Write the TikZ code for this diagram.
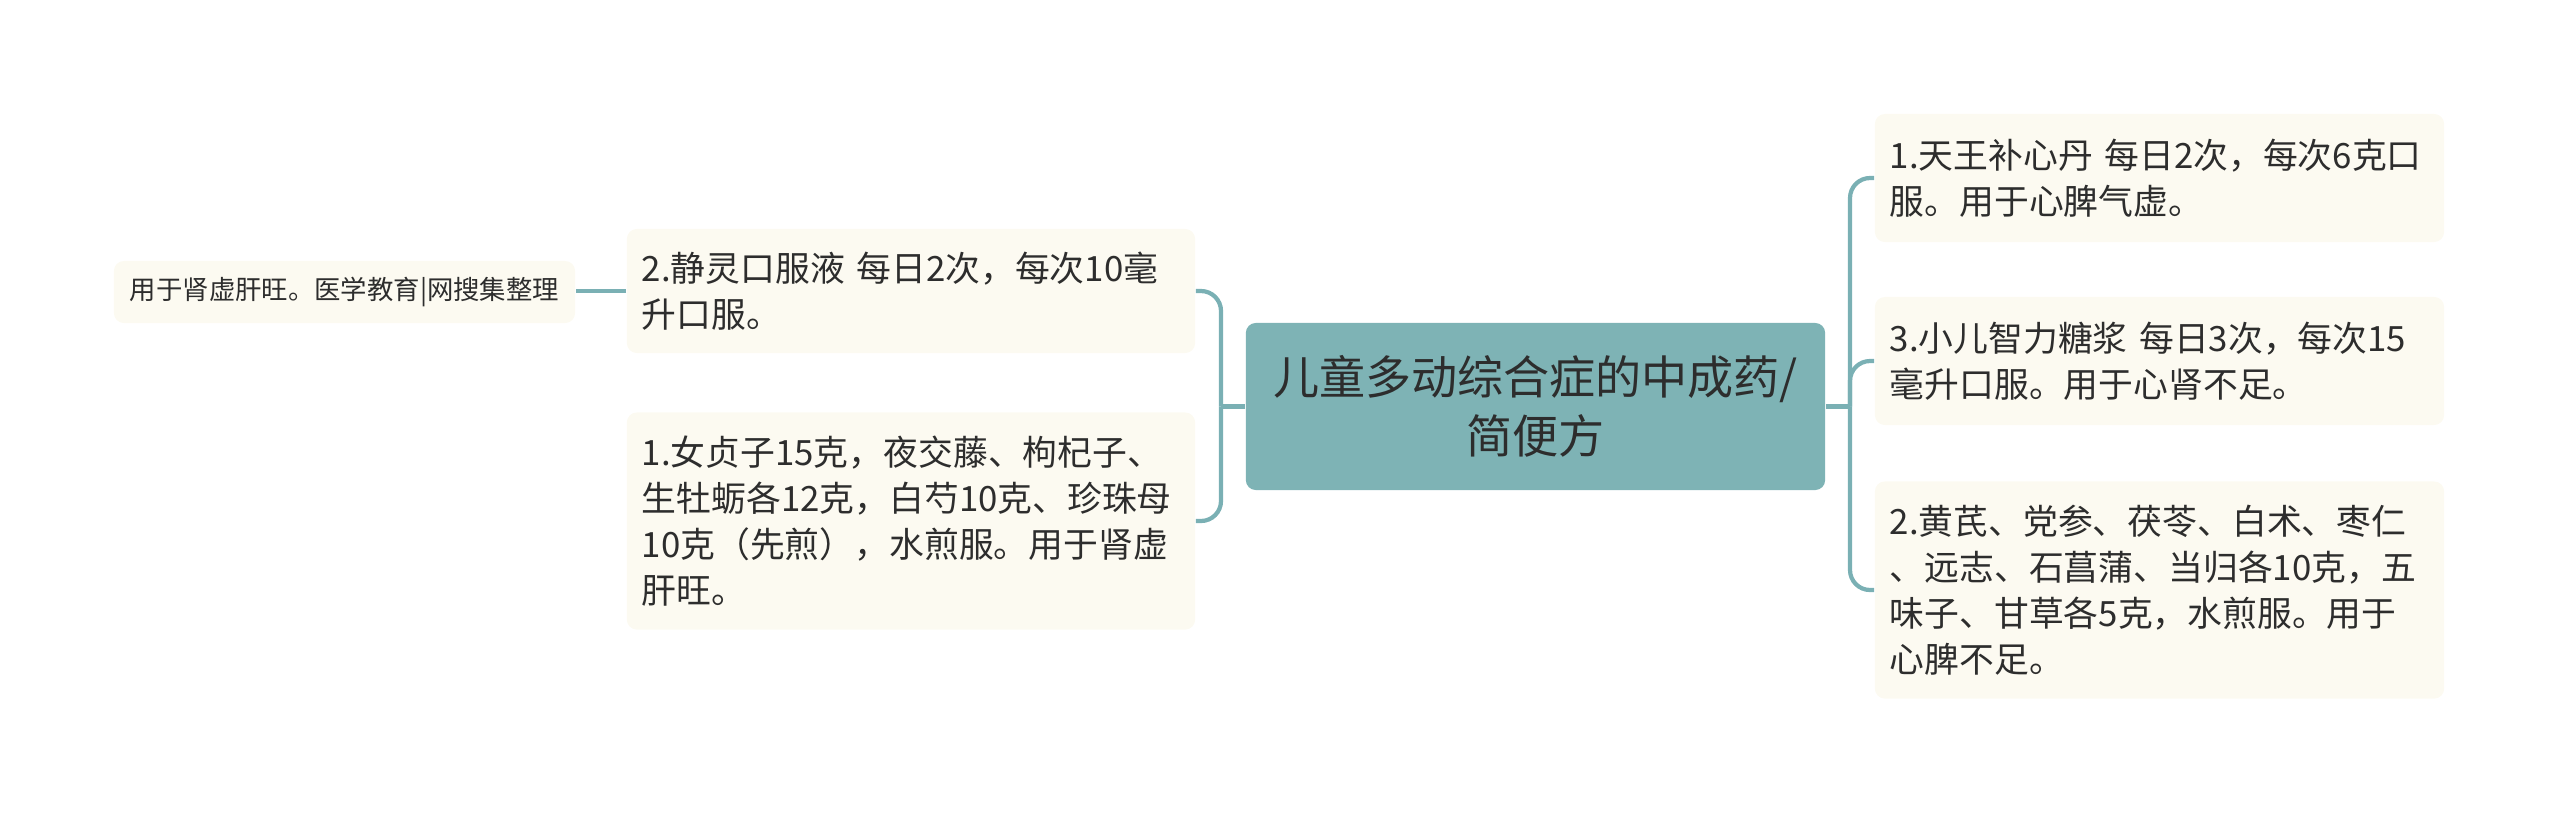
\documentclass[tikz,border=0pt]{standalone}
\usepackage{fontspec}
\newfontfamily\cjk{Noto Sans CJK SC}
\definecolor{mainteal}{RGB}{126,179,181}
\definecolor{linkteal}{RGB}{122,176,180}
\definecolor{cream}{RGB}{252,250,241}
\definecolor{ink}{RGB}{45,45,45}
\tikzset{
  leaf/.style={fill=cream, rounded corners=0.1cm, align=left, inner sep=0pt, text=ink,
    font=\cjk\fontsize{9.9pt}{13.1pt}\selectfont},
  link/.style={color=linkteal, line width=1.2pt, rounded corners=0.2cm}
}

\begin{document}
\begin{tikzpicture}[x=0.01cm, y=-0.01cm]

\useasboundingbox (0,0) rectangle (2560,814);

\node[fill=mainteal, rounded corners=0.1cm, align=center, inner sep=0pt, text=ink,
  minimum width=5.79cm, minimum height=1.67cm,
  font=\cjk\fontsize{13.1pt}{16.7pt}\selectfont] (C) at (1535.5,406.5)
  {儿童多动综合症的中成药/\\简便方};

\node[leaf, minimum width=5.69cm, minimum height=1.28cm, text width=5.39cm] (R1) at (2159.5,178)
  {1.天王补心丹~每日2次，每次6克口\\服。用于心脾气虚。};
\node[leaf, minimum width=5.69cm, minimum height=1.28cm, text width=5.39cm] (R2) at (2159.5,361)
  {3.小儿智力糖浆~每日3次，每次15\\毫升口服。用于心肾不足。};
\node[leaf, minimum width=5.69cm, minimum height=2.17cm, text width=5.39cm] (R3) at (2159.5,590)
  {2.黄芪、党参、茯苓、白术、枣仁\\、远志、石菖蒲、当归各10克，五\\味子、甘草各5克，水煎服。用于\\心脾不足。};

\node[leaf, minimum width=5.68cm, minimum height=1.24cm, text width=5.38cm] (L1) at (911,291)
  {2.静灵口服液~每日2次，每次10毫\\升口服。};
\node[leaf, minimum width=5.68cm, minimum height=2.17cm, text width=5.38cm] (L2) at (911,521)
  {1.女贞子15克，夜交藤、枸杞子、\\生牡蛎各12克，白芍10克、珍珠母\\10克（先煎），水煎服。用于肾虚\\肝旺。};

\node[fill=cream, rounded corners=0.1cm, inner sep=0pt, text=ink,
  minimum width=4.61cm, minimum height=0.62cm,
  font=\cjk\fontsize{7.5pt}{9pt}\selectfont] (FL) at (344.5,292)
  {用于肾虚肝旺。医学教育|网搜集整理};

\coordinate (TL) at (1221,406.5);
\coordinate (TR) at (1850,406.5);

\draw[link] (C.west) -- (TL);
\draw[link] (TL) |- (L1.east);
\draw[link] (TL) |- (L2.east);
\draw[link] (C.east) -- (TR);
\draw[link] (TR) |- (R1.west);
\draw[link] (TR) |- (R2.west);
\draw[link] (TR) |- (R3.west);
\draw[link] (L1.west) -- (L1.west -| FL.east);

\end{tikzpicture}
\end{document}
